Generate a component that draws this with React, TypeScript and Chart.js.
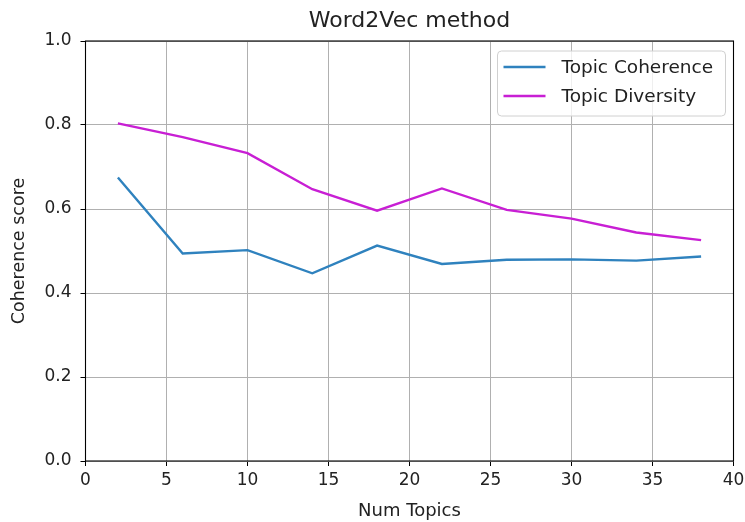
import React, { useEffect, useRef } from "react";
import { Chart, registerables } from "chart.js";

Chart.register(...registerables);

const numTopics = [2, 6, 10, 14, 18, 22, 26, 30, 34, 38];
const coherence = [0.675, 0.494, 0.502, 0.447, 0.513, 0.469, 0.479, 0.48, 0.477, 0.487];
const diversity = [0.804, 0.771, 0.733, 0.647, 0.596, 0.649, 0.598, 0.577, 0.544, 0.526];
const seriesNames = ["Topic Coherence", "Topic Diversity"];
const seriesColors = ["#2f82be", "#c81fd4"];
const titleText = "Word2Vec method";
const xLabel = "Num Topics";
const yLabel = "Coherence score";

const FONT = "'DejaVu Sans', sans-serif";

const framePlugin = {
  id: "frame",
  afterDraw(chart: any) {
    const { ctx, chartArea } = chart;
    const { left, right, top, bottom } = chartArea;
    ctx.save();
    ctx.strokeStyle = "#000";
    ctx.lineWidth = 1.1;
    ctx.strokeRect(left, top, right - left, bottom - top);

    // title
    ctx.fillStyle = "#222";
    ctx.font = `22px ${FONT}`;
    ctx.textAlign = "center";
    ctx.textBaseline = "middle";
    ctx.fillText(titleText, (left + right) / 2, 21);

    // legend
    const bx = right - 236, by = top + 10, bw = 228, bh = 65;
    ctx.fillStyle = "rgba(255,255,255,0.8)";
    ctx.strokeStyle = "#d0d0d0";
    ctx.lineWidth = 1;
    ctx.beginPath();
    const r = 4;
    ctx.moveTo(bx + r, by);
    ctx.lineTo(bx + bw - r, by);
    ctx.quadraticCurveTo(bx + bw, by, bx + bw, by + r);
    ctx.lineTo(bx + bw, by + bh - r);
    ctx.quadraticCurveTo(bx + bw, by + bh, bx + bw - r, by + bh);
    ctx.lineTo(bx + r, by + bh);
    ctx.quadraticCurveTo(bx, by + bh, bx, by + bh - r);
    ctx.lineTo(bx, by + r);
    ctx.quadraticCurveTo(bx, by, bx + r, by);
    ctx.closePath();
    ctx.fill();
    ctx.stroke();
    ctx.font = `18.5px ${FONT}`;
    ctx.textBaseline = "middle";
    ctx.textAlign = "left";
    seriesNames.forEach((name, i) => {
      const y = by + 16 + i * 29;
      ctx.strokeStyle = seriesColors[i];
      ctx.lineWidth = 2.4;
      ctx.beginPath();
      ctx.moveTo(bx + 6, y);
      ctx.lineTo(bx + 48, y);
      ctx.stroke();
      ctx.fillStyle = "#222";
      ctx.fillText(name, bx + 64, y + 1);
    });
    ctx.restore();
  },
};

export default function App() {
  const ref = useRef<HTMLCanvasElement>(null);
  useEffect(() => {
    if (!ref.current) return;
    const chart = new Chart(ref.current, {
      type: "line",
      data: {
        datasets: [
          {
            label: seriesNames[0],
            data: numTopics.map((x, i) => ({ x, y: coherence[i] })),
            borderColor: seriesColors[0],
            borderWidth: 2.4,
            pointRadius: 0,
            tension: 0,
          },
          {
            label: seriesNames[1],
            data: numTopics.map((x, i) => ({ x, y: diversity[i] })),
            borderColor: seriesColors[1],
            borderWidth: 2.4,
            pointRadius: 0,
            tension: 0,
          },
        ],
      },
      plugins: [framePlugin],
      options: {
        responsive: false,
        animation: false,
        devicePixelRatio: 1,
        layout: { padding: { left: 0, right: 11.5, top: 41, bottom: 0 } },
        plugins: {
          legend: { display: false },
          tooltip: { enabled: false },
          title: { display: false },
        },
        scales: {
          x: {
            type: "linear",
            min: 0,
            max: 40,
            ticks: { stepSize: 5, color: "#222", font: { family: FONT, size: 17 }, padding: 4, maxRotation: 0 },
            grid: { color: "#b0b0b0", lineWidth: 1, tickColor: "#000", tickLength: 5 },
            border: { display: false },
            title: { display: true, text: xLabel, color: "#222", font: { family: FONT, size: 18 }, padding: { top: 0, bottom: 0 } },
            afterFit: (s: any) => { s.height = 61; s.paddingLeft = 0; s.paddingRight = 0; },
          },
          y: {
            min: 0,
            max: 1,
            ticks: { stepSize: 0.2, color: "#222", font: { family: FONT, size: 17 }, padding: 9, callback: (v: any) => Number(v).toFixed(1) },
            grid: { color: "#b0b0b0", lineWidth: 1, tickColor: "#000", tickLength: 5 },
            border: { display: false },
            title: { display: true, text: yLabel, color: "#222", font: { family: FONT, size: 17.5 }, padding: { top: 9, bottom: 0 } },
            afterFit: (s: any) => { s.width = 85.5; s.paddingTop = 0; s.paddingBottom = 0; },
          },
        },
      },
    } as any);
    return () => chart.destroy();
  }, []);
  return (
    <div style={{ position: "fixed", left: 0, top: 0, width: 745, height: 522, background: "#fff" }}>
      <canvas ref={ref} width={745} height={522} style={{ width: 745, height: 522 }} />
    </div>
  );
}
